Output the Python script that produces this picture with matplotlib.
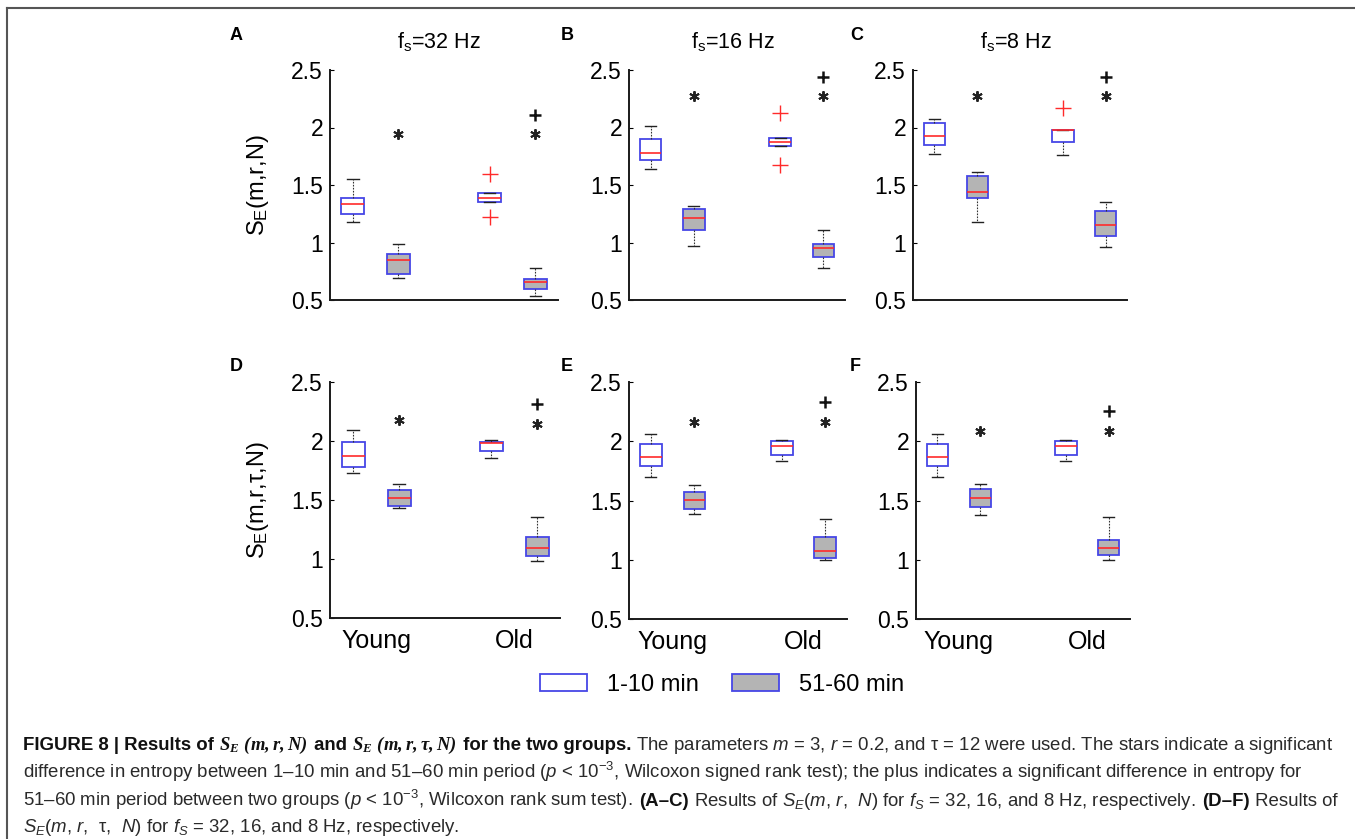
import matplotlib
matplotlib.use('Agg')
import matplotlib.pyplot as plt
from matplotlib.patches import Patch
from matplotlib.lines import Line2D
from matplotlib.transforms import IdentityTransform

plt.rcParams['font.family'] = ['Liberation Sans', 'DejaVu Sans']
plt.rcParams['mathtext.fontset'] = 'custom'
plt.rcParams['mathtext.rm'] = 'Liberation Sans'
plt.rcParams['mathtext.it'] = 'Liberation Sans:italic'
plt.rcParams['mathtext.bf'] = 'Liberation Serif:bold:italic'

# data: panels A-F, boxes = Young 1-10, Young 51-60, Old 1-10, Old 51-60
panel_letters = ['A', 'B', 'C', 'D', 'E', 'F']
fs_values = ['32', '16', '8']
groups = ['Young', 'Old']
periods = ['1-10 min', '51-60 min']
ylabels = [r'S$_\mathrm{E}$(m,r,N)', r'S$_\mathrm{E}$(m,r,τ,N)']

whisker_low = [[1.18, 0.688, 1.355, 0.535],
               [1.642, 0.971, 1.837, 0.776],
               [1.77, 1.18, 1.765, 0.959],
               [1.725, 1.435, 1.852, 0.985],
               [1.70, 1.386, 1.832, 1.0],
               [1.70, 1.375, 1.832, 1.0]]
q1 = [[1.25, 0.723, 1.355, 0.593],
      [1.715, 1.105, 1.837, 0.878],
      [1.846, 1.39, 1.872, 1.058],
      [1.782, 1.452, 1.917, 1.024],
      [1.793, 1.431, 1.886, 1.013],
      [1.793, 1.447, 1.886, 1.039]]
median = [[1.335, 0.848, 1.384, 0.654],
          [1.779, 1.209, 1.875, 0.951],
          [1.924, 1.439, 1.974, 1.154],
          [1.872, 1.52, 1.985, 1.092],
          [1.864, 1.504, 1.964, 1.078],
          [1.866, 1.52, 1.964, 1.098]]
q3 = [[1.385, 0.897, 1.433, 0.683],
      [1.901, 1.29, 1.913, 0.983],
      [2.041, 1.578, 1.977, 1.27],
      [1.993, 1.587, 1.993, 1.187],
      [1.973, 1.568, 2.0, 1.19],
      [1.973, 1.60, 2.0, 1.168]]
whisker_high = [[1.55, 0.987, 1.433, 0.781],
                [2.012, 1.32, 1.913, 1.113],
                [2.076, 1.613, 1.977, 1.349],
                [2.097, 1.635, 2.007, 1.356],
                [2.057, 1.627, 2.01, 1.344],
                [2.057, 1.636, 2.01, 1.358]]
red_outliers = [[[], [], [1.225, 1.596], []],
                [[], [], [1.677, 2.122], []],
                [[], [], [2.166], []],
                [[], [], [], []],
                [[], [], [], []],
                [[], [], [], []]]
star_young = [1.94, 2.27, 2.27, 2.18, 2.16, 2.09]
star_old = [1.94, 2.27, 2.27, 2.14, 2.16, 2.09]
plus_old = [2.11, 2.44, 2.44, 2.31, 2.33, 2.255]

W, H = 1355, 839
blue = '#4646e6'
gray = '#b4b4b4'
red = '#ff2a2a'

fig = plt.figure(figsize=(W / 100, H / 100), dpi=100)

# axes boxes in pixels: left, top, right, bottom
rects = [(330, 70, 558, 300), (629, 70, 845, 300), (913, 70, 1127, 300),
         (330, 382, 560, 618), (629, 382, 847, 619), (916, 382, 1130, 619)]
letter_xy = [(230, 40), (561, 40), (850, 40), (230, 371), (561, 371), (850, 371)]
positions = [1, 2, 4, 5]

for i in range(6):
    l, t, r, b = rects[i]
    ax = fig.add_axes([l / W, 1 - b / H, (r - l) / W, (b - t) / H])
    stats = []
    for k in range(4):
        stats.append(dict(med=median[i][k], q1=q1[i][k], q3=q3[i][k],
                          whislo=whisker_low[i][k], whishi=whisker_high[i][k],
                          fliers=red_outliers[i][k]))
    bp = ax.bxp(stats, positions=positions, widths=0.5, capwidths=0.25, patch_artist=True,
                boxprops=dict(edgecolor=blue, linewidth=1.3),
                medianprops=dict(color=red, linewidth=1.2),
                whiskerprops=dict(color='#333333', linewidth=0.8, linestyle=(0, (1.5, 1.2))),
                capprops=dict(color='#222222', linewidth=1.0),
                flierprops=dict(marker='+', markeredgecolor=red, markersize=11,
                                markeredgewidth=1.0, linestyle='none'))
    for k, patch in enumerate(bp['boxes']):
        patch.set_facecolor('white' if k % 2 == 0 else gray)

    ax.plot([positions[1], positions[3]], [star_young[i], star_old[i]], ls='none',
            marker=(6, 2, 0), color='#222222', ms=7.5, mew=1.4)
    ax.plot(positions[3], plus_old[i], ls='none', marker='+', color='#111111', ms=9, mew=1.8)

    ax.set_xlim(0.5, 5.5)
    ax.set_ylim(0.5, 2.5)
    ax.set_yticks([0.5, 1, 1.5, 2, 2.5])
    ax.set_yticklabels(['0.5', '1', '1.5', '2', '2.5'])
    if i >= 3:
        ax.set_xticks([1.5, 4.5])
        ax.set_xticklabels(groups)
    else:
        ax.set_xticks([])
    ax.tick_params(axis='y', direction='in', length=3, labelsize=16.5, pad=5)
    ax.tick_params(axis='x', length=0, labelsize=18, pad=8)
    for s in ['top', 'right']:
        ax.spines[s].set_visible(False)
    for s in ['left', 'bottom']:
        ax.spines[s].set_linewidth(1.4)
        ax.spines[s].set_color('#1a1a1a')

    if i % 3 == 0:
        ax.text((258 - l) / (r - l), 0.5, ylabels[i // 3], transform=ax.transAxes,
                rotation=90, ha='center', va='center', fontsize=17)
    if i < 3:
        ax.text(0.48, (b - 48) / (b - t), r'f$_\mathrm{s}$=' + fs_values[i] + ' Hz',
                transform=ax.transAxes, ha='center', va='baseline', fontsize=15.5)
    fig.text(letter_xy[i][0], H - letter_xy[i][1], panel_letters[i], transform=IdentityTransform(),
             fontsize=13, fontweight='bold', ha='left', va='baseline')

handles = [Patch(facecolor='white', edgecolor=blue, linewidth=1.3, label=periods[0]),
           Patch(facecolor=gray, edgecolor=blue, linewidth=1.3, label=periods[1])]
fig.legend(handles=handles, loc='center', bbox_to_anchor=(722 / W, 1 - 685 / H), ncol=2,
           frameon=False, fontsize=17, handlelength=2.0, handleheight=0.7,
           handletextpad=0.85, columnspacing=1.4)

# frame around the figure area
fig.add_artist(Line2D([7 / W, 1], [1 - 8 / H, 1 - 8 / H], transform=fig.transFigure,
                      color='#555555', lw=1.5))
fig.add_artist(Line2D([7 / W, 7 / W], [1 - 8 / H, 0], transform=fig.transFigure,
                      color='#555555', lw=1.5))

# caption
cap_fs = 13.4
renderer = fig.canvas.get_renderer()
bold = dict(fontweight='bold', color='#111111')
reg = dict(color='#2a2a2a')


def seg_width(s, kw):
    t1 = fig.text(0, 0, s + 'x', fontsize=cap_fs, **kw)
    t2 = fig.text(0, 0, 'x', fontsize=cap_fs, **kw)
    w = t1.get_window_extent(renderer).width - t2.get_window_extent(renderer).width
    t1.remove()
    t2.remove()
    return w


def caption_line(y, parts):
    x = 23
    for s, kw in parts:
        fig.text(x, H - y, s, transform=IdentityTransform(), fontsize=cap_fs,
                 ha='left', va='baseline', **kw)
        x += seg_width(s, kw)


caption_line(750, [('FIGURE 8 | Results of ', bold),
                   (r'$\mathbf{S_E\ (m,r,N)}$', bold),
                   (' and ', bold),
                   (r'$\mathbf{S_E\ (m,r,\tau,N)}$', bold),
                   (' for the two groups.', bold),
                   (' The parameters $m$ = 3, $r$ = 0.2, and τ = 12 were used. '
                    'The stars indicate a significant', reg)])
caption_line(778, [('difference in entropy between 1–10 min and 51–60 min period ($p$ < 10$^{-3}$, '
                    'Wilcoxon signed rank test); the plus indicates a significant difference in entropy for', reg)])
caption_line(806, [('51–60 min period between two groups ($p$ < 10$^{-3}$, Wilcoxon rank sum test). ', reg),
                   ('(A–C)', bold),
                   (' Results of $S_E$($m$, $r$,  $N$) for $f_S$ = 32, 16, and 8 Hz, respectively. ', reg),
                   ('(D–F)', bold),
                   (' Results of', reg)])
caption_line(832, [('$S_E$($m$, $r$,  τ,  $N$) for $f_S$ = 32, 16, and 8 Hz, respectively.', reg)])

plt.savefig('out.png', dpi=100)
